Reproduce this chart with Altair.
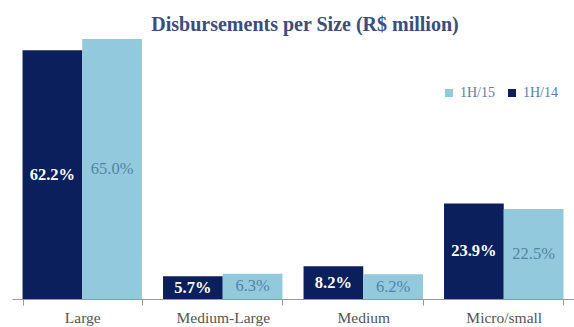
import altair as alt
import pandas as pd

categories = ["Large", "Medium-Large", "Medium", "Micro/small"]
series = ["1H/14", "1H/15"]
values_1h14 = [62.2, 5.7, 8.2, 23.9]
values_1h15 = [65.0, 6.3, 6.2, 22.5]

rows = []
for c, v14, v15 in zip(categories, values_1h14, values_1h15):
    rows.append({"cat": c, "period": "1H/14", "value": v14, "label": f"{v14:.1f}%"})
    rows.append({"cat": c, "period": "1H/15", "value": v15, "label": f"{v15:.1f}%"})
df = pd.DataFrame(rows)

DARK = "#0b1f5c"
LIGHT = "#93c9dc"
FONT = "Liberation Serif"
YMAX = 65.25

x = alt.X("cat:N", sort=categories, title=None,
          scale=alt.Scale(paddingInner=0.15, paddingOuter=0.075),
          axis=alt.Axis(labelAngle=0, labelFont=FONT, labelFontSize=15.5, labelColor="#555555",
                        labelPadding=5, tickBand="extent", tickSize=6, tickColor="#999999",
                        domainColor="#999999", grid=False))
xo = alt.XOffset("period:N", sort=series)
y = alt.Y("value:Q", scale=alt.Scale(domain=[0, YMAX], nice=False), axis=None)

base = alt.Chart(df)

bars = base.mark_bar().encode(
    x=x, xOffset=xo, y=y,
    color=alt.Color("period:N",
                    scale=alt.Scale(domain=["1H/15", "1H/14"], range=[LIGHT, DARK]),
                    legend=alt.Legend(title=None, orient="none", legendX=430, legendY=48,
                                      direction="horizontal", symbolType="square",
                                      symbolSize=64, labelFont=FONT, labelFontSize=14,
                                      labelColor="#5a7ea6", columnPadding=10,
                                      symbolStrokeWidth=0)),
)

mid = alt.Y("mid:Q", scale=alt.Scale(domain=[0, YMAX], nice=False), axis=None)

labels14 = base.transform_filter(alt.datum.period == "1H/14").transform_calculate(
    mid="datum.value/2").mark_text(
    font=FONT, fontSize=16.5, fontWeight="bold", color="white", baseline="middle").encode(
    x=x, xOffset=xo, y=mid, text="label:N")

labels15 = base.transform_filter(alt.datum.period == "1H/15").transform_calculate(
    mid="datum.value/2").mark_text(
    font=FONT, fontSize=16.5, color="#4f85a8", baseline="middle").encode(
    x=x, xOffset=xo, y=mid, text="label:N")

chart = alt.layer(bars, labels14, labels15).properties(
    width=562, height=261,
    title=alt.TitleParams("Disbursements per Size (R$ million)", font=FONT, fontSize=20,
                          fontWeight="bold", color="#3b4d7e", anchor="middle", offset=3,
                          dx=12),
    padding={"left": 12, "top": 15, "right": 0, "bottom": 0},
).configure_view(stroke=None)

chart.save("out.html", embed_options={"renderer": "svg", "actions": False})
